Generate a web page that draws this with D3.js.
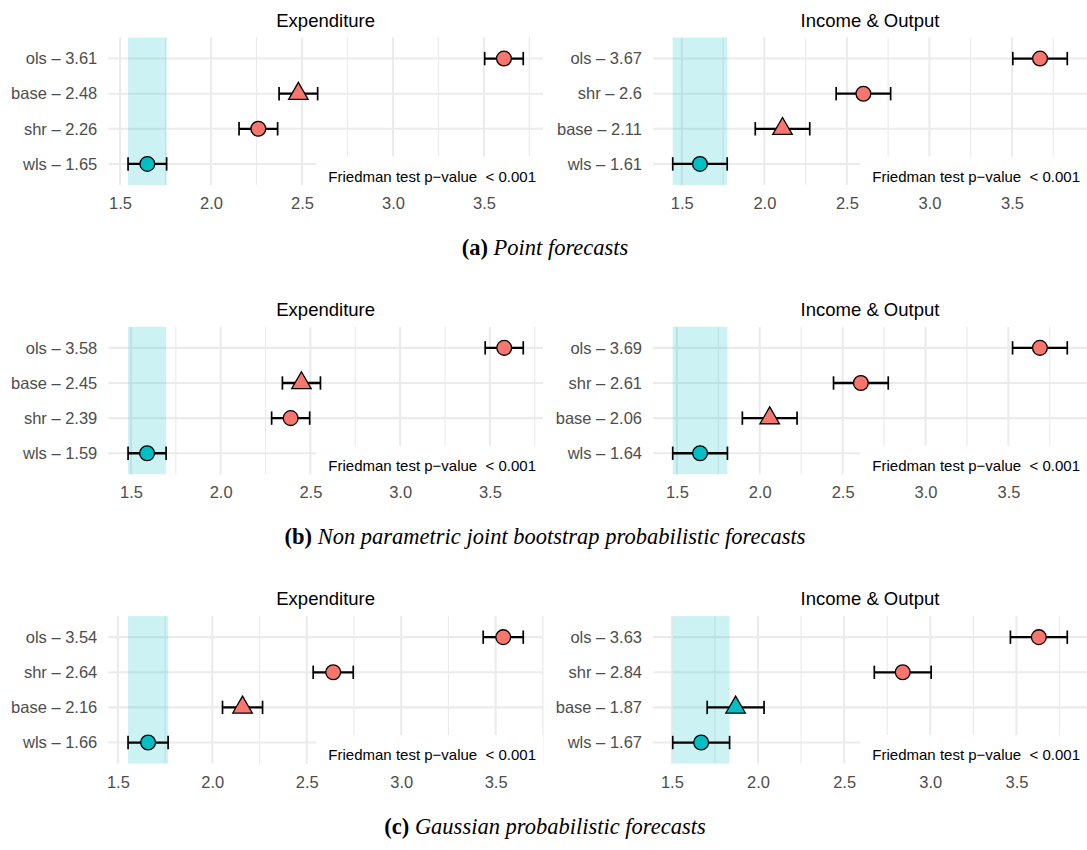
<!DOCTYPE html>
<html>
<head>
<meta charset="utf-8">
<script src="https://cdn.jsdelivr.net/npm/d3@7"></script>
<style>
  html, body { margin: 0; padding: 0; background: #fff; }
  svg { display: block; }
</style>
</head>
<body>
<svg id="chart" width="1087" height="850"></svg>
<script>
// ---------------- data ----------------
const panelTitles = ["Expenditure", "Income & Output"];
const captionTags = ["(a)", "(b)", "(c)"];
const captionTexts = [
  "Point forecasts",
  "Non parametric joint bootstrap probabilistic forecasts",
  "Gaussian probabilistic forecasts"
];
// methods (top to bottom) and mean ranks, one entry per row of panels
const expMethods = [
  ["ols", "base", "shr", "wls"],
  ["ols", "base", "shr", "wls"],
  ["ols", "shr", "base", "wls"]
];
const expRanks = [
  [3.61, 2.48, 2.26, 1.65],
  [3.58, 2.45, 2.39, 1.59],
  [3.54, 2.64, 2.16, 1.66]
];
const incMethods = [
  ["ols", "shr", "base", "wls"],
  ["ols", "shr", "base", "wls"],
  ["ols", "shr", "base", "wls"]
];
const incRanks = [
  [3.67, 2.6, 2.11, 1.61],
  [3.69, 2.61, 2.06, 1.64],
  [3.63, 2.84, 1.87, 1.67]
];
// half of the critical distance (Expenditure, Income & Output)
const halfWidths = [0.106, 0.165];
const xTicks = [1.5, 2.0, 2.5, 3.0, 3.5];
const pValueLabel = "Friedman test p\u2212value  < 0.001";

// ---------------- layout ----------------
const svg = d3.select("#chart");
const blockH = 289.3;
const colX = [[108.3, 543], [653, 1087]];
const panelTopOff = 37.5, panelBotOff = 185;
const red = "#F8766D", teal = "#00BFC4";
const grid = "#EBEBEB";
const sans = "'Liberation Sans', Arial, Helvetica, sans-serif";

for (let r = 0; r < 3; r++) {
  const top = r * blockH + panelTopOff;
  const bottom = r * blockH + panelBotOff;
  for (let c = 0; c < 2; c++) {
    const methods = c === 0 ? expMethods[r] : incMethods[r];
    const ranks = c === 0 ? expRanks[r] : incRanks[r];
    const hw = halfWidths[c];
    const lo = d3.min(ranks) - hw, hi = d3.max(ranks) + hw;
    const pad = (hi - lo) * 0.05;
    const [px0, px1] = colX[c];
    const x = d3.scaleLinear().domain([lo - pad, hi + pad]).range([px0, px1]);
    const y = d3.scalePoint().domain(methods).range([top, bottom]).padding(0.6);
    const dom = x.domain();
    const inDom = v => v >= dom[0] && v <= dom[1];
    const majors = xTicks.filter(inDom);
    const minors = Array.from(new Set(xTicks.flatMap(t => [t - 0.25, t + 0.25])))
      .filter(v => inDom(v) && !xTicks.includes(v));

    const g = svg.append("g");

    // minor + major vertical gridlines
    g.selectAll("line.minor").data(minors).join("line")
      .attr("x1", d => x(d)).attr("x2", d => x(d))
      .attr("y1", top).attr("y2", bottom)
      .attr("stroke", grid).attr("stroke-width", 1.2);
    g.selectAll("line.major").data(majors).join("line")
      .attr("x1", d => x(d)).attr("x2", d => x(d))
      .attr("y1", top).attr("y2", bottom)
      .attr("stroke", grid).attr("stroke-width", 2.1);
    // horizontal gridlines
    g.selectAll("line.hgrid").data(methods).join("line")
      .attr("x1", px0).attr("x2", px1)
      .attr("y1", d => y(d)).attr("y2", d => y(d))
      .attr("stroke", grid).attr("stroke-width", 2.1);

    // best band
    const best = d3.min(ranks);
    g.append("rect")
      .attr("x", x(best - hw)).attr("width", x(best + hw) - x(best - hw))
      .attr("y", top).attr("height", bottom - top)
      .attr("fill", teal).attr("fill-opacity", 0.2);

    // Friedman label with white background
    const lblBg = g.append("rect").attr("fill", "#fff");
    const lbl = g.append("text")
      .attr("x", px1 - 7).attr("y", bottom - 3.5)
      .attr("text-anchor", "end")
      .style("white-space", "pre")
      .attr("font-family", sans).attr("font-size", 15)
      .attr("fill", "#000")
      .text(pValueLabel);
    const tw = lbl.node().getComputedTextLength();
    lblBg.attr("x", px1 - 7 - tw - 12).attr("width", tw + 19)
      .attr("y", bottom - 28.5).attr("height", 28.5);

    // title
    svg.append("text")
      .attr("x", (px0 + px1) / 2).attr("y", r * blockH + 26.5)
      .attr("text-anchor", "middle")
      .attr("font-family", sans).attr("font-size", 18.5)
      .attr("fill", "#000")
      .text(panelTitles[c]);

    // axes
    const xa = svg.append("g").attr("transform", `translate(0,${bottom})`)
      .call(d3.axisBottom(x).tickValues(majors).tickFormat(d3.format(".1f")).tickSize(0));
    xa.select(".domain").remove();
    xa.selectAll("text").attr("y", 24).attr("dy", null)
      .attr("font-family", sans).attr("font-size", 16.5).attr("fill", "#4D4D4D");

    const rankOf = new Map(methods.map((m, i) => [m, ranks[i]]));
    const ya = svg.append("g").attr("transform", `translate(${px0},0)`)
      .call(d3.axisLeft(y).tickSize(0).tickPadding(11)
        .tickFormat(m => `${m} \u2013 ${rankOf.get(m)}`));
    ya.select(".domain").remove();
    ya.selectAll("text").attr("font-family", sans).attr("font-size", 16.5).attr("fill", "#4D4D4D");

    // error bars
    const rows = methods.map((m, i) => ({ m, v: ranks[i] }));
    const eb = g.selectAll("g.eb").data(rows).join("g");
    eb.append("line")
      .attr("x1", d => x(d.v - hw)).attr("x2", d => x(d.v + hw))
      .attr("y1", d => y(d.m)).attr("y2", d => y(d.m))
      .attr("stroke", "#000").attr("stroke-width", 2.3);
    eb.append("line")
      .attr("x1", d => x(d.v - hw)).attr("x2", d => x(d.v - hw))
      .attr("y1", d => y(d.m) - 6.7).attr("y2", d => y(d.m) + 6.7)
      .attr("stroke", "#000").attr("stroke-width", 1.7);
    eb.append("line")
      .attr("x1", d => x(d.v + hw)).attr("x2", d => x(d.v + hw))
      .attr("y1", d => y(d.m) - 6.7).attr("y2", d => y(d.m) + 6.7)
      .attr("stroke", "#000").attr("stroke-width", 1.7);

    // points
    g.selectAll("path.pt").data(rows).join("path")
      .attr("transform", d => `translate(${x(d.v)},${y(d.m)})`)
      .attr("d", d => d3.symbol()
        .type(d.m === "base" ? d3.symbolTriangle : d3.symbolCircle)
        .size(d.m === "base" ? 165 : 172)())
      .attr("fill", d => (d.v - hw <= best + hw) ? teal : red)
      .attr("stroke", "#000").attr("stroke-width", 1.3);
  }

  // caption
  const cap = svg.append("text")
    .attr("x", 545).attr("y", r * blockH + 255)
    .attr("text-anchor", "middle")
    .attr("font-family", "'Liberation Serif', 'Times New Roman', serif")
    .attr("font-size", 22.5).attr("fill", "#000");
  cap.append("tspan").attr("font-weight", "bold").text(captionTags[r]);
  cap.append("tspan").attr("font-style", "italic").text(" " + captionTexts[r]);
}
</script>
</body>
</html>
